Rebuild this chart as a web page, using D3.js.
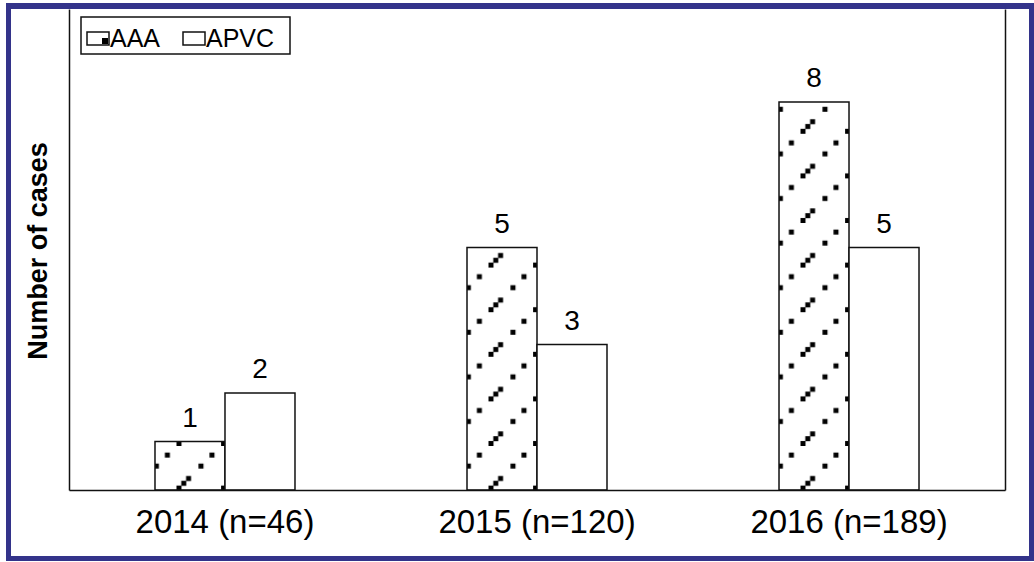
<!DOCTYPE html>
<html>
<head>
<meta charset="utf-8">
<script src="https://cdn.jsdelivr.net/npm/d3@7"></script>
<style>
  html, body { margin: 0; padding: 0; background: #fff; }
  svg { display: block; }
  text { font-family: "Liberation Sans", Arial, Helvetica, sans-serif; fill: #000; }
</style>
</head>
<body>
<svg id="chart" width="1034" height="562"></svg>
<script>
// ---- data ----
const categories = ["2014 (n=46)", "2015 (n=120)", "2016 (n=189)"];
const seriesNames = ["AAA", "APVC"];
const aaaValues = [1, 5, 8];
const apvcValues = [2, 3, 5];
const yTitle = "Number of cases";

const rows = categories.map((c, i) => ({ cat: c, values: [
  { key: "AAA", value: aaaValues[i] },
  { key: "APVC", value: apvcValues[i] }
]}));

const svg = d3.select("#chart");

// ---- pattern ----
const defs = svg.append("defs");
const P = 44.6, S = 5;
const pat = defs.append("pattern")
  .attr("id", "dots").attr("patternUnits", "userSpaceOnUse")
  .attr("x", 21.5).attr("y", 0).attr("width", P).attr("height", P);
pat.append("rect").attr("width", P).attr("height", P).attr("fill", "#fff");
[0, 4.8, 9.6, 22, 33].forEach(t => {
  pat.append("rect").attr("x", t).attr("y", P - S - t)
    .attr("width", S).attr("height", S).attr("fill", "#000");
});

// ---- scales ----
const x0 = d3.scaleBand().domain(categories).range([69, 1005])
  .paddingInner(0.5513).paddingOuter(0.2756);
const x1 = d3.scaleBand().domain(seriesNames).range([0, x0.bandwidth()]);
const y = d3.scaleLinear().domain([0, 10]).range([490, 5]);

// ---- bars ----
const groups = svg.append("g").selectAll("g").data(rows).join("g")
  .attr("transform", d => `translate(${x0(d.cat)},0)`);

groups.selectAll("rect").data(d => d.values).join("rect")
  .attr("x", d => x1(d.key))
  .attr("y", d => y(d.value))
  .attr("width", x1.bandwidth())
  .attr("height", d => y(0) - y(d.value))
  .attr("fill", d => d.key === "AAA" ? "url(#dots)" : "#fff")
  .attr("stroke", "#111").attr("stroke-width", 1.5);

groups.selectAll("text.val").data(d => d.values).join("text")
  .attr("class", "val")
  .attr("x", d => x1(d.key) + x1.bandwidth() / 2)
  .attr("y", d => y(d.value) - 15)
  .attr("text-anchor", "middle")
  .attr("font-size", 28)
  .text(d => d.value);

// ---- axes ----
const xAxis = svg.append("g").attr("transform", `translate(0,${y(0)})`)
  .call(d3.axisBottom(x0).tickSize(0).tickPadding(20));
xAxis.select(".domain").attr("stroke", "#111").attr("stroke-width", 1.5);
xAxis.selectAll("text").attr("font-size", 33)
  .attr("font-family", "'Liberation Sans', Arial, sans-serif").attr("fill", "#000")
  .attr("dy", "0.71em");

const yAxis = svg.append("g").attr("transform", `translate(69,0)`)
  .call(d3.axisLeft(y.copy().range([490, 9])).ticks(0).tickSize(0));
yAxis.select(".domain").attr("stroke", "#111").attr("stroke-width", 1.5);

const yAxisR = svg.append("g").attr("transform", `translate(1005,0)`)
  .call(d3.axisRight(y.copy().range([490, 9])).ticks(0).tickSize(0));
yAxisR.select(".domain").attr("stroke", "#111").attr("stroke-width", 1.5);

svg.append("text")
  .attr("transform", "translate(47,251) rotate(-90)")
  .attr("text-anchor", "middle")
  .attr("font-size", 27).attr("font-weight", "bold")
  .text(yTitle);

// ---- legend ----
const lg = svg.append("g");
lg.append("rect").attr("x", 81).attr("y", 17).attr("width", 209).attr("height", 37)
  .attr("fill", "#fff").attr("stroke", "#111").attr("stroke-width", 1.5);
const lx = [87, 183];
seriesNames.forEach((s, i) => {
  lg.append("rect").attr("x", lx[i]).attr("y", 32).attr("width", 22).attr("height", 13)
    .attr("fill", "#fff").attr("stroke", "#111").attr("stroke-width", 1.5);
  if (s === "AAA") {
    lg.append("rect").attr("x", lx[i] + 15).attr("y", 38).attr("width", 6).attr("height", 6)
      .attr("fill", "#000");
  }
  lg.append("text").attr("x", lx[i] + 23).attr("y", 47).attr("font-size", 25).text(s);
});

// ---- outer frame ----
const navy = "#33338a";
svg.append("rect").attr("x", 6).attr("y", 3).attr("width", 1028).attr("height", 6).attr("fill", navy);
svg.append("rect").attr("x", 6).attr("y", 3).attr("width", 5).attr("height", 558).attr("fill", navy);
svg.append("rect").attr("x", 1029).attr("y", 3).attr("width", 5).attr("height", 558).attr("fill", navy);
svg.append("rect").attr("x", 6).attr("y", 556).attr("width", 1028).attr("height", 5).attr("fill", navy);
</script>
</body>
</html>
